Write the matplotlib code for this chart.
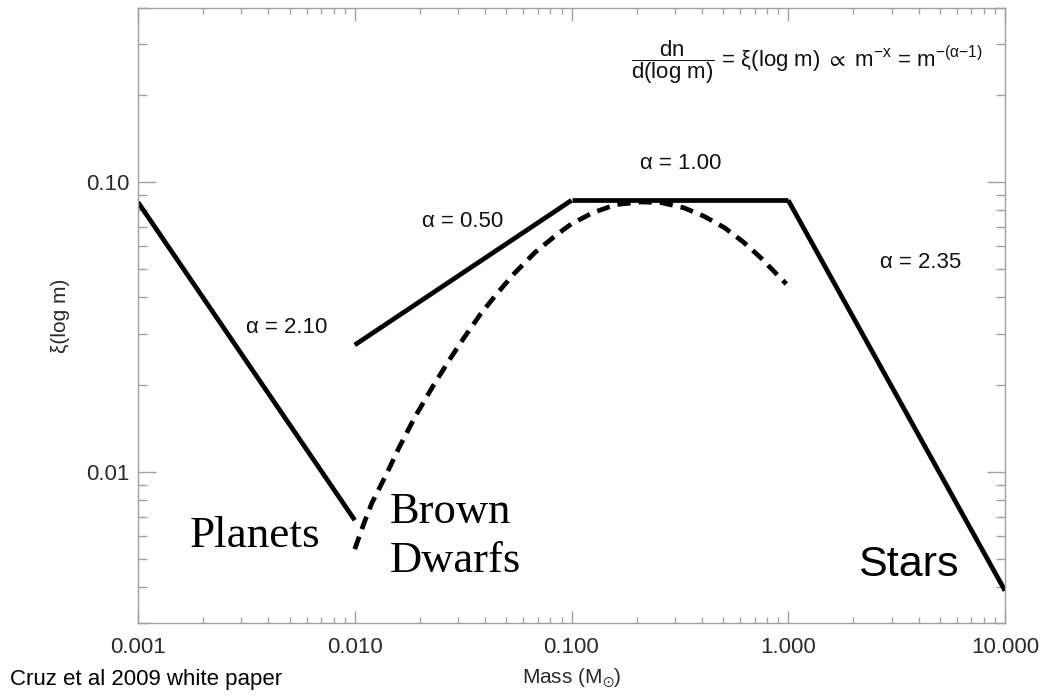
import matplotlib
matplotlib.use("Agg")
import matplotlib.pyplot as plt
from matplotlib.ticker import FixedLocator, LogLocator, NullFormatter, FixedFormatter

plt.rcParams['font.family'] = ['Liberation Sans', 'DejaVu Sans']
plt.rcParams['mathtext.fontset'] = 'custom'
plt.rcParams['mathtext.rm'] = 'Liberation Sans'
plt.rcParams['mathtext.it'] = 'Liberation Sans'
plt.rcParams['mathtext.bf'] = 'Liberation Sans:bold'
plt.rcParams['mathtext.fallback'] = 'stixsans'

# ---- data ----
planet_mass = [0.001, 0.01]
planet_xi = [0.0853, 0.00680]

bd_mass = [0.01, 0.1]
bd_xi = [0.0274, 0.0866]

low_star_mass = [0.1, 1.0]
low_star_xi = [0.0866, 0.0866]

star_mass = [1.0, 10.0]
star_xi = [0.0866, 0.00388]

lognormal_mass = [0.010, 0.011, 0.012, 0.014, 0.016, 0.019, 0.023, 0.027, 0.032, 0.038,
                  0.045, 0.055, 0.068, 0.085, 0.10, 0.125, 0.16, 0.21, 0.26, 0.33,
                  0.41, 0.51, 0.62, 0.74, 0.90, 0.98]
lognormal_xi = [0.0054, 0.0066, 0.0078, 0.0098, 0.0121, 0.0155, 0.0198, 0.0240, 0.0291, 0.0350,
                0.0410, 0.0488, 0.0573, 0.0657, 0.0718, 0.0784, 0.0837, 0.0855, 0.0850, 0.0816,
                0.0762, 0.0695, 0.0622, 0.0552, 0.0475, 0.0445]

x_ticks = [0.001, 0.01, 0.1, 1.0, 10.0]
x_tick_labels = ['0.001', '0.010', '0.100', '1.000', '10.000']
y_ticks = [0.01, 0.1]
y_tick_labels = ['0.01', '0.10']

alpha_labels = ['\u03b1 = 2.10', '\u03b1 = 0.50', '\u03b1 = 1.00', '\u03b1 = 2.35']
alpha_label_pos = [(0.00486, 0.0316), (0.0313, 0.0734), (0.32, 0.1164), (4.06, 0.0527)]

# ---- figure ----
fig = plt.figure(figsize=(10.4, 6.96), dpi=100)
ax = fig.add_axes([138/1040, 1-623/696, (1005-138)/1040, (623-8)/696])
ax.set_xscale('log')
ax.set_yscale('log')
ax.set_xlim(0.001, 10.0)
ax.set_ylim(0.003, 0.4)

lw = 3.4
for xs, ys in [(planet_mass, planet_xi), (bd_mass, bd_xi), (low_star_mass, low_star_xi), (star_mass, star_xi)]:
    ax.plot(xs, ys, color='black', lw=lw, solid_capstyle='butt', solid_joinstyle='miter')
ax.plot(lognormal_mass, lognormal_xi, color='black', lw=lw, dashes=(2.8, 1.7), dash_capstyle='butt')

for lab, (px, py) in zip(alpha_labels, alpha_label_pos):
    ax.text(px, py, lab, fontsize=16, ha='center', va='center', color='#111111')

formula = (r'$\dfrac{\mathrm{dn}}{\mathrm{d(log\ m)}}$' + ' = \u03be(log m) ' + r'$\propto$'
           + ' m' + r'$^{\mathrm{-x}}$' + ' = m' + r'$^{\mathrm{-(}\alpha\mathrm{-1)}}$')
ax.text(7.9, 0.26, formula, fontsize=16, ha='right', va='center', color='#111111')

ax.text(0.00347, 0.00551, 'Planets', family='Liberation Serif', fontsize=32.5, ha='center', va='baseline')
ax.text(0.01456, 0.00667, 'Brown', family='Liberation Serif', fontsize=32, ha='left', va='baseline')
ax.text(0.01456, 0.00449, 'Dwarfs', family='Liberation Serif', fontsize=32, ha='left', va='baseline')
ax.text(3.57, 0.00435, 'Stars', family='Liberation Sans', fontsize=31, ha='center', va='baseline')

# axes styling
for s in ax.spines.values():
    s.set_color('#a0a0a0')
    s.set_linewidth(1.0)

ax.xaxis.set_major_locator(FixedLocator(x_ticks))
ax.xaxis.set_major_formatter(FixedFormatter(x_tick_labels))
ax.xaxis.set_minor_locator(LogLocator(base=10, subs=range(2, 10), numticks=20))
ax.xaxis.set_minor_formatter(NullFormatter())
ax.yaxis.set_major_locator(FixedLocator(y_ticks))
ax.yaxis.set_major_formatter(FixedFormatter(y_tick_labels))
ax.yaxis.set_minor_locator(LogLocator(base=10, subs=range(2, 10), numticks=20))
ax.yaxis.set_minor_formatter(NullFormatter())

ax.tick_params(axis='both', which='both', direction='in', top=True, right=True,
               color='#a0a0a0', width=1.0, labelsize=16, labelcolor='#2a2a2a')
ax.tick_params(axis='x', which='major', length=9, pad=10)
ax.tick_params(axis='x', which='minor', length=4.5)
ax.tick_params(axis='y', which='major', length=13, pad=6)
ax.tick_params(axis='y', which='minor', length=6.5)

ax.set_xlabel(r'Mass (M$_{\odot}$)', fontsize=15, color='#2a2a2a', labelpad=6)
ax.set_ylabel('\u03be(log m)', fontsize=15, color='#2a2a2a', labelpad=12)

fig.text(0.010, 0.008, 'Cruz et al 2009 white paper', fontsize=16, ha='left', va='bottom', color='black')

fig.savefig('out.png', dpi=100)
